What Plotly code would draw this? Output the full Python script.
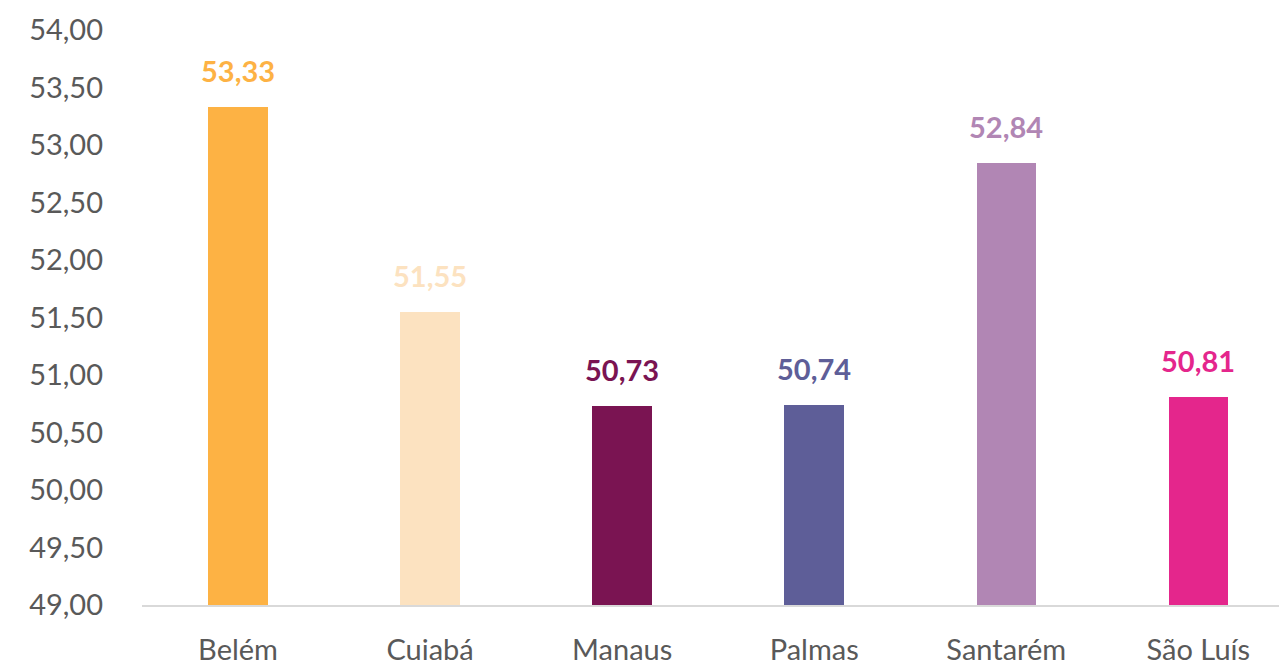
import plotly.graph_objects as go

cidades = ["Belém", "Cuiabá", "Manaus", "Palmas", "Santarém", "São Luís"]
valores = [53.33, 51.55, 50.73, 50.74, 52.84, 50.81]
cores = ["#FDB244", "#FCE2C0", "#7A1452", "#5E5E98", "#B186B4", "#E4268C"]
y_ticks = [49.0, 49.5, 50.0, 50.5, 51.0, 51.5, 52.0, 52.5, 53.0, 53.5, 54.0]

FONT = "Lato, 'Open Sans', sans-serif"
SIZE = 29

fig = go.Figure(
    go.Bar(
        x=cidades,
        y=valores,
        marker=dict(color=cores, line=dict(width=0)),
        width=0.31,
    )
)

# value labels above each bar, in the bar's own colour
for c, v, col in zip(cidades, valores, cores):
    fig.add_annotation(
        x=c, y=v, text="<b>" + f"{v:.2f}".replace(".", ",") + "</b>",
        showarrow=False, yanchor="bottom", yshift=17,
        font=dict(family=FONT, size=SIZE, color=col),
    )

fig.update_layout(
    width=1279, height=666,
    margin=dict(l=142, r=0, t=30, b=59),
    paper_bgcolor="white", plot_bgcolor="white",
    separators=",.",
    showlegend=False,
    font=dict(family=FONT, color="#595959"),
    bargap=0,
)
fig.update_xaxes(
    type="category", range=[-0.5, 5.42],
    showgrid=False, showline=True, linecolor="#D9D9D9", linewidth=2,
    ticks="", tickfont=dict(size=SIZE, color="#595959"),
    ticklabelstandoff=18,
)
fig.update_yaxes(
    range=[49, 54], tickvals=y_ticks, tickformat=".2f",
    showgrid=False, zeroline=False, showline=False,
    tickfont=dict(size=SIZE, color="#595959"), ticks="",
    ticklabelstandoff=38,
)

fig.write_html("out.html")
